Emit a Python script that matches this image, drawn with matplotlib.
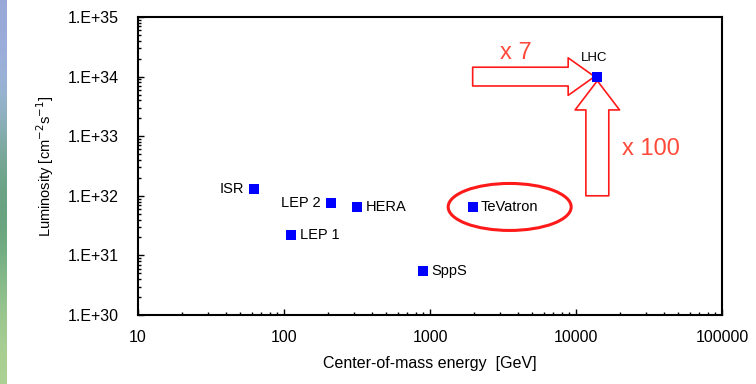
import numpy as np
import matplotlib.pyplot as plt
from matplotlib.patches import Ellipse
from matplotlib.ticker import FixedLocator, FuncFormatter, LogLocator, NullFormatter
from matplotlib import transforms

plt.rcParams["font.family"] = ["Liberation Sans", "DejaVu Sans"]

# Collider data: name, energy [GeV], luminosity [cm-2 s-1]
names = ["ISR", "LEP 2", "HERA", "LEP 1", "SppS", "TeVatron", "LHC"]
energy = [62, 209, 318, 112, 900, 1960, 14000]
lumi = [1.3e32, 7.5e31, 6.5e31, 2.2e31, 5.5e30, 6.5e31, 1.0e34]
# where each label sits relative to its marker
label_side = ["left", "left", "right", "right", "right", "right", "top"]

xticks = [10, 100, 1000, 10000, 100000]
yticks = [1e30, 1e31, 1e32, 1e33, 1e34, 1e35]

blue = "#0000ff"
red = "#ff1a1a"

fig = plt.figure(figsize=(7.56, 3.84), dpi=100)
fig.patch.set_facecolor("white")

# thin decorative strip on the left (slide background)
strip = fig.add_axes([0, 0, 0.008, 1])
grad = np.array([[0.60, 0.66, 0.85], [0.62, 0.72, 0.86], [0.45, 0.65, 0.55],
                 [0.38, 0.62, 0.48], [0.55, 0.75, 0.55], [0.68, 0.82, 0.58]])
strip.imshow(grad[:, None, :], aspect="auto", interpolation="bicubic")
strip.axis("off")

ax = fig.add_axes([138 / 756, 1 - 315 / 384, 584 / 756, 298 / 384])
ax.set_xscale("log")
ax.set_yscale("log")
ax.set_xlim(xticks[0], xticks[-1])
ax.set_ylim(yticks[0], yticks[-1])

ax.plot(energy, lumi, "s", color=blue, markersize=7, markeredgewidth=0, zorder=5)

for n, e, l, side in zip(names, energy, lumi, label_side):
    if side == "left":
        ax.annotate(n, (e, l), xytext=(-7, 0), textcoords="offset points",
                    ha="right", va="center", fontsize=10.5)
    elif side == "right":
        ax.annotate(n, (e, l), xytext=(6, 0), textcoords="offset points",
                    ha="left", va="center", fontsize=10.5)
    else:
        ax.annotate(n, (e, l), xytext=(-2, 9), textcoords="offset points",
                    ha="center", va="bottom", fontsize=9.5)

# ticks and labels
ax.xaxis.set_major_locator(FixedLocator(xticks))
ax.yaxis.set_major_locator(FixedLocator(yticks))
ax.xaxis.set_minor_locator(LogLocator(base=10, subs=np.arange(2, 10)))
ax.yaxis.set_minor_locator(LogLocator(base=10, subs=np.arange(2, 10)))
ax.xaxis.set_minor_formatter(NullFormatter())
ax.yaxis.set_minor_formatter(NullFormatter())
ax.xaxis.set_major_formatter(FuncFormatter(lambda v, p: "%d" % v))
ax.yaxis.set_major_formatter(FuncFormatter(lambda v, p: "1.E+%d" % round(np.log10(v))))
ax.tick_params(which="both", direction="in", top=False, right=False, labelsize=11.5)
ax.tick_params(which="major", length=4, width=1)
ax.tick_params(which="minor", length=2.5, width=1)
ax.tick_params(axis="x", pad=11)
ax.tick_params(axis="y", pad=14)
for s in ax.spines.values():
    s.set_linewidth(1.5)

ax.set_xlabel("Center-of-mass energy  [GeV]", fontsize=11.5, labelpad=8)
ax.set_ylabel("Luminosity [cm$^{-2}$s$^{-1}$]", fontsize=10.5, labelpad=8)

# ellipse around TeVatron (drawn in pixel units around the data point)
tev = names.index("TeVatron")
ell_tr = fig.dpi_scale_trans + transforms.ScaledTranslation(energy[tev], lumi[tev], ax.transData)
ax.add_patch(Ellipse((0.37, 0.0), 1.23, 0.47, transform=ell_tr, fill=False,
                     edgecolor=red, linewidth=2.2, zorder=6))

# arrows towards LHC
lhc = names.index("LHC")
ax.annotate("", xy=(energy[lhc], lumi[lhc]), xytext=(energy[tev], lumi[lhc]),
            arrowprops=dict(arrowstyle="simple,head_length=19,head_width=27,tail_width=13.5",
                            mutation_scale=1, fc="white", ec=red, lw=1.2,
                            shrinkA=0, shrinkB=2))
ax.annotate("", xy=(energy[lhc], lumi[lhc]), xytext=(energy[lhc], lumi[lhc] / 100),
            arrowprops=dict(arrowstyle="simple,head_length=21,head_width=32,tail_width=16.5",
                            mutation_scale=1, fc="white", ec=red, lw=1.2,
                            shrinkA=0, shrinkB=3))
ax.annotate("x 7", (energy[tev], lumi[lhc]), xytext=(20, 9), textcoords="offset points",
            ha="left", va="bottom", fontsize=17, color="#ff4a3a")
ax.annotate("x 100", (energy[lhc], lumi[lhc] / 100), xytext=(18, 26), textcoords="offset points",
            ha="left", va="bottom", fontsize=17, color="#ff4a3a")

fig.savefig("out.png", dpi=100)
